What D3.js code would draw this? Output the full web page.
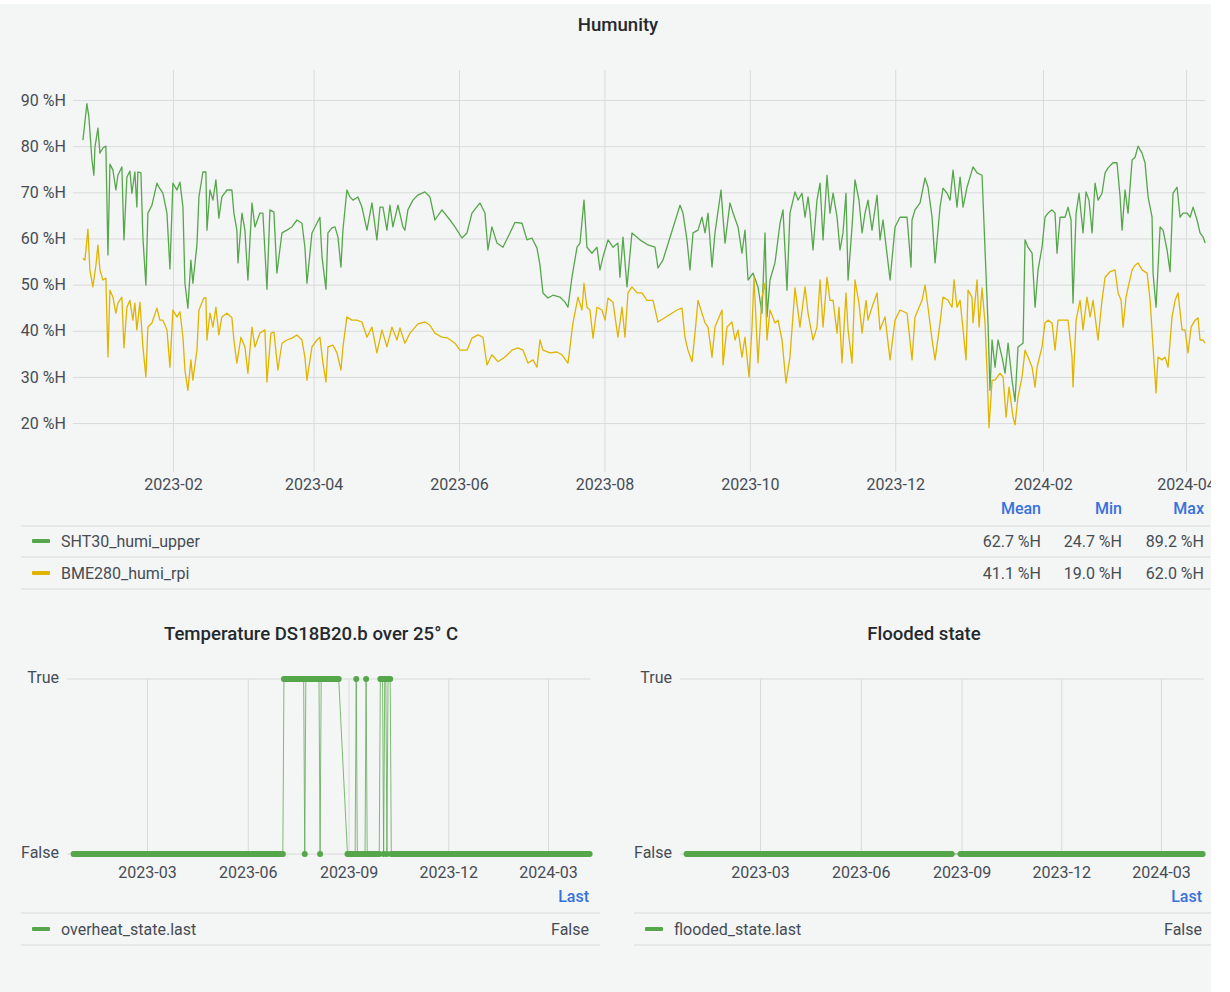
<!DOCTYPE html>
<html><head><meta charset="utf-8">
<script src="https://cdn.jsdelivr.net/npm/d3@7"></script>
<style>
body{margin:0;background:#fff;}
svg text{font-family:Roboto,"Noto Sans",sans-serif;}
</style></head><body>
<svg id="c" width="1230" height="992"></svg>
<script>
// ---------------- DATA ----------------
const timeRange = ["2022-12-21T00","2024-04-09T00"];
const humiTicks = ["2023-02","2023-04","2023-06","2023-08","2023-10","2023-12","2024-02","2024-04"];
const humiYTicks = [20,30,40,50,60,70,80,90];
const stateTicks = ["2023-03","2023-06","2023-09","2023-12","2024-03"];
const humiNames = ["SHT30_humi_upper","BME280_humi_rpi"];
const statNames = ["Mean","Min","Max"];
const shtStats = ["62.7 %H","24.7 %H","89.2 %H"];
const bmeStats = ["41.1 %H","19.0 %H","62.0 %H"];

const shtSeries = [
["2022-12-25T05",81.3],["2022-12-26T21",89.2],["2022-12-27T17",86.3],["2022-12-28T23",77.2],["2022-12-29T19",73.7],["2022-12-30T06",79.8],["2022-12-31T12",83.9],
["2023-01-01T08",78.5],["2023-01-02T14",79.6],["2023-01-03T20",80.0],["2023-01-04T17",56.4],["2023-01-05T13",76.1],["2023-01-06T19",74.8],["2023-01-08T01",70.5],["2023-01-08T21",73.7],["2023-01-10T13",75.5],["2023-01-11T10",59.7],["2023-01-12T16",73.3],["2023-01-13T22",74.6],["2023-01-14T18",69.8],["2023-01-16T00",74.4],["2023-01-16T20",66.8],["2023-01-17T06",74.4],["2023-01-18T13",74.2],["2023-01-19T09",60.1],["2023-01-20T15",49.9],["2023-01-21T11",65.5],["2023-01-23T04",67.2],["2023-01-25T06",72.0],["2023-01-26T02",71.1],["2023-01-27T18",69.8],["2023-01-29T11",65.5],["2023-01-30T17",53.4],["2023-01-31T23",72.0],
["2023-02-02T15",70.5],["2023-02-03T22",72.2],["2023-02-05T04",66.8],["2023-02-06T00",50.3],["2023-02-07T06",44.9],["2023-02-08T12",55.3],["2023-02-09T08",50.3],["2023-02-11T01",58.6],["2023-02-11T21",69.0],["2023-02-13T13",74.4],["2023-02-14T19",74.4],["2023-02-15T06",61.8],["2023-02-16T12",70.5],["2023-02-17T18",68.3],["2023-02-19T00",72.7],["2023-02-20T06",64.4],["2023-02-21T12",69.0],["2023-02-23T15",70.5],["2023-02-25T17",70.5],["2023-02-26T13",65.5],["2023-02-27T19",61.8],["2023-02-28T06",54.7],
["2023-03-01T22",65.5],["2023-03-03T04",61.8],["2023-03-04T10",51.0],["2023-03-06T03",67.7],["2023-03-07T09",62.5],["2023-03-09T11",65.5],["2023-03-10T17",65.5],["2023-03-12T10",49.0],["2023-03-13T16",66.2],["2023-03-15T08",65.7],["2023-03-16T14",52.5],["2023-03-18T17",61.2],["2023-03-20T19",61.8],["2023-03-22T21",62.5],["2023-03-25T00",64.0],["2023-03-27T02",63.3],["2023-03-28T08",58.1],["2023-03-29T05",50.3],["2023-03-31T07",61.2],
["2023-04-02T09",63.3],["2023-04-03T15",64.6],["2023-04-04T12",56.0],["2023-04-06T04",49.0],["2023-04-07T00",61.2],["2023-04-08T16",62.3],["2023-04-09T23",62.5],["2023-04-11T05",60.3],["2023-04-12T11",53.8],["2023-04-13T07",61.8],["2023-04-14T23",70.5],["2023-04-16T06",69.0],["2023-04-17T12",68.3],["2023-04-19T14",69.0],["2023-04-21T06",66.8],["2023-04-23T09",61.8],["2023-04-25T11",67.7],["2023-04-27T13",59.7],["2023-04-28T20",66.8],["2023-04-30T02",66.8],
["2023-05-01T18",61.8],["2023-05-03T00",67.2],["2023-05-04T06",62.5],["2023-05-06T09",67.2],["2023-05-08T11",62.5],["2023-05-09T07",61.8],["2023-05-10T13",66.2],["2023-05-12T16",68.3],["2023-05-14T18",69.4],["2023-05-17T17",70.1],["2023-05-19T19",69.0],["2023-05-21T21",64.0],["2023-05-24T20",66.2],["2023-05-28T05",64.0],["2023-05-30T07",62.5],
["2023-06-02T06",60.1],["2023-06-04T08",61.2],["2023-06-06T10",65.5],["2023-06-09T19",67.7],["2023-06-11T21",65.5],["2023-06-13T03",57.5],["2023-06-14T19",62.5],["2023-06-16T22",59.0],["2023-06-19T10",58.1],["2023-06-22T09",61.2],["2023-06-24T11",63.5],["2023-06-27T10",63.3],["2023-06-29T12",59.7],
["2023-07-01T14",60.1],["2023-07-03T17",57.9],["2023-07-04T23",54.2],["2023-07-06T05",48.2],["2023-07-08T07",47.1],["2023-07-10T10",47.7],["2023-07-13T08",47.3],["2023-07-15T11",46.2],["2023-07-16T17",45.1],["2023-07-18T09",51.6],["2023-07-20T12",58.1],["2023-07-21T18",59.0],["2023-07-23T10",68.3],["2023-07-24T16",58.1],["2023-07-26T18",56.8],["2023-07-28T21",58.1],["2023-07-30T03",53.2],["2023-07-31T09",56.0],
["2023-08-02T12",59.7],["2023-08-04T14",58.1],["2023-08-06T16",59.0],["2023-08-07T12",51.6],["2023-08-08T19",60.3],["2023-08-10T11",49.5],["2023-08-12T13",61.2],["2023-08-15T22",59.7],["2023-08-19T06",58.6],["2023-08-22T05",58.1],["2023-08-23T11",53.6],["2023-08-25T13",55.3],
["2023-09-01T17",67.2],["2023-09-02T23",65.5],["2023-09-04T15",59.7],["2023-09-05T21",53.2],["2023-09-07T04",61.2],["2023-09-09T06",61.8],["2023-09-10T22",64.6],["2023-09-12T05",61.2],["2023-09-13T11",65.5],["2023-09-15T03",53.8],["2023-09-16T09",61.2],["2023-09-18T22",70.5],["2023-09-19T18",64.6],["2023-09-20T14",59.0],["2023-09-22T16",67.7],["2023-09-23T23",65.5],["2023-09-26T01",62.5],["2023-09-27T17",56.8],["2023-09-28T23",61.8],["2023-09-30T06",51.0],
["2023-10-02T08",52.5],["2023-10-04T10",49.5],["2023-10-06T02",43.8],["2023-10-07T09",61.2],["2023-10-08T05",43.0],["2023-10-09T11",51.0],["2023-10-11T13",54.7],["2023-10-13T16",63.3],["2023-10-14T22",66.2],["2023-10-16T14",48.8],["2023-10-17T20",65.5],["2023-10-19T23",70.1],["2023-10-21T05",68.3],["2023-10-22T21",69.8],["2023-10-24T04",64.6],["2023-10-25T10",69.0],["2023-10-26T06",65.5],["2023-10-27T12",57.5],["2023-10-29T04",68.3],["2023-10-30T11",72.0],["2023-10-31T17",59.7],
["2023-11-02T09",73.7],["2023-11-03T15",65.5],["2023-11-04T22",69.8],["2023-11-06T14",64.6],["2023-11-07T20",57.5],["2023-11-09T02",61.2],["2023-11-10T08",69.8],["2023-11-11T05",51.0],["2023-11-12T21",62.5],["2023-11-14T03",72.7],["2023-11-15T19",68.3],["2023-11-17T02",61.2],["2023-11-18T08",65.5],["2023-11-19T14",68.3],["2023-11-21T06",61.8],["2023-11-23T09",69.4],["2023-11-24T15",59.7],["2023-11-25T21",64.0],["2023-11-28T20",51.0],["2023-11-30T22",62.5],
["2023-12-03T00",64.6],["2023-12-05T23",64.6],["2023-12-07T15",53.8],["2023-12-08T01",64.0],["2023-12-09T07",66.2],["2023-12-11T10",67.7],["2023-12-13T12",73.1],["2023-12-14T18",71.1],["2023-12-16T11",64.6],["2023-12-17T17",54.7],["2023-12-19T19",66.8],["2023-12-21T01",70.9],["2023-12-22T18",69.8],["2023-12-24T00",68.3],["2023-12-25T06",74.8],["2023-12-26T22",66.8],["2023-12-28T05",73.3],["2023-12-29T11",66.8],["2023-12-31T03",71.1],
["2024-01-01T09",73.3],["2024-01-02T15",75.5],["2024-01-04T08",74.2],["2024-01-06T10",73.7],["2024-01-08T22",41.7],["2024-01-09T18",27.1],["2024-01-10T15",38.0],["2024-01-11T21",32.1],["2024-01-13T03",38.0],["2024-01-14T19",34.3],["2024-01-16T02",30.8],["2024-01-17T08",37.3],["2024-01-19T00",29.3],["2024-01-20T06",24.7],["2024-01-21T12",36.5],["2024-01-23T15",37.3],["2024-01-24T11",59.7],["2024-01-25T17",58.1],["2024-01-27T10",56.8],["2024-01-28T16",45.1],["2024-01-29T22",53.2],["2024-01-31T14",58.1],
["2024-02-01T20",64.6],["2024-02-03T03",65.5],["2024-02-04T19",66.2],["2024-02-06T01",65.5],["2024-02-06T21",56.8],["2024-02-08T04",64.6],["2024-02-10T06",64.6],["2024-02-11T12",66.8],["2024-02-12T18",64.0],["2024-02-13T14",46.0],["2024-02-14T21",65.5],["2024-02-16T03",69.8],["2024-02-17T19",61.2],["2024-02-19T01",70.1],["2024-02-20T07",68.3],["2024-02-21T14",61.2],["2024-02-22T20",72.0],["2024-02-24T02",68.3],["2024-02-25T18",69.8],["2024-02-27T01",74.2],["2024-02-28T07",75.3],
["2024-03-01T09",76.4],["2024-03-03T01",76.4],["2024-03-04T08",69.0],["2024-03-05T04",61.8],["2024-03-06T10",70.5],["2024-03-07T16",65.5],["2024-03-09T09",77.0],["2024-03-10T15",77.6],["2024-03-11T21",80.0],["2024-03-13T13",78.5],["2024-03-14T19",76.4],["2024-03-16T02",69.0],["2024-03-17T18",64.6],["2024-03-18T04",52.5],["2024-03-19T10",45.1],["2024-03-21T03",62.5],["2024-03-22T09",61.8],["2024-03-24T01",57.5],["2024-03-25T07",52.8],["2024-03-26T13",69.8],["2024-03-28T06",71.1],["2024-03-29T12",64.6],["2024-03-30T18",65.5],
["2024-04-01T11",65.5],["2024-04-02T17",64.6],["2024-04-03T23",66.8],["2024-04-05T15",64.0],["2024-04-06T21",61.2],["2024-04-08T04",60.3],["2024-04-09T00",59.0]
];

const bmeSeries = [
["2022-12-25T05",55.7],["2022-12-26T01",55.3],["2022-12-26T21",59.7],["2022-12-27T07",62.0],["2022-12-28T03",53.2],["2022-12-29T09",49.5],["2022-12-30T16",54.2],["2022-12-31T12",58.6],
["2023-01-01T08",53.2],["2023-01-02T14",51.0],["2023-01-03T20",51.4],["2023-01-04T17",34.3],["2023-01-05T13",48.8],["2023-01-06T19",47.3],["2023-01-08T01",43.8],["2023-01-08T21",46.0],["2023-01-10T13",47.3],["2023-01-11T10",36.3],["2023-01-12T16",45.1],["2023-01-13T22",46.6],["2023-01-15T04",42.3],["2023-01-16T00",46.0],["2023-01-16T20",40.2],["2023-01-18T03",46.2],["2023-01-19T09",36.5],["2023-01-20T15",30.0],["2023-01-21T11",40.8],["2023-01-23T04",41.7],["2023-01-25T06",44.9],["2023-01-26T12",42.3],["2023-01-27T18",42.3],["2023-01-29T11",40.2],["2023-01-30T17",32.1],["2023-01-31T23",44.5],
["2023-02-02T15",43.0],["2023-02-03T22",44.1],["2023-02-05T04",38.6],["2023-02-06T00",31.5],["2023-02-07T06",27.1],["2023-02-08T12",33.7],["2023-02-09T08",29.3],["2023-02-11T01",35.8],["2023-02-11T21",44.5],["2023-02-13T23",47.1],["2023-02-14T19",47.1],["2023-02-15T06",38.0],["2023-02-16T12",43.8],["2023-02-17T18",40.8],["2023-02-19T00",45.1],["2023-02-20T06",39.1],["2023-02-21T12",43.0],["2023-02-23T15",43.8],["2023-02-25T17",42.8],["2023-02-26T13",38.0],["2023-02-27T19",33.0],
["2023-03-01T12",38.6],["2023-03-03T04",36.5],["2023-03-04T10",30.8],["2023-03-06T03",40.8],["2023-03-07T09",36.5],["2023-03-09T11",39.5],["2023-03-11T13",40.2],["2023-03-12T10",28.9],["2023-03-14T02",39.5],["2023-03-15T08",39.7],["2023-03-17T00",31.5],["2023-03-18T17",37.3],["2023-03-20T19",38.0],["2023-03-22T21",38.4],["2023-03-25T00",39.1],["2023-03-27T02",38.0],["2023-03-28T08",34.3],["2023-03-29T05",29.3],["2023-03-31T07",36.5],
["2023-04-02T09",38.0],["2023-04-03T15",38.6],["2023-04-04T22",33.0],["2023-04-06T04",28.9],["2023-04-07T00",36.5],["2023-04-09T02",36.9],["2023-04-10T19",35.2],["2023-04-12T11",31.5],["2023-04-13T07",36.5],["2023-04-14T23",43.0],["2023-04-17T02",42.3],["2023-04-19T04",42.3],["2023-04-21T06",41.9],["2023-04-23T09",38.6],["2023-04-25T11",40.8],["2023-04-27T13",35.2],["2023-04-29T16",40.2],
["2023-05-01T18",36.5],["2023-05-03T20",40.8],["2023-05-05T23",38.0],["2023-05-07T05",40.6],["2023-05-09T07",37.3],["2023-05-11T10",39.5],["2023-05-14T18",41.5],["2023-05-17T17",41.9],["2023-05-19T19",41.2],["2023-05-21T21",39.5],["2023-05-24T20",38.6],["2023-05-27T08",38.4],["2023-05-30T07",37.3],
["2023-06-01T09",35.8],["2023-06-04T08",35.8],["2023-06-06T10",38.4],["2023-06-08T23",39.1],["2023-06-11T01",38.6],["2023-06-12T17",32.6],["2023-06-14T19",34.8],["2023-06-17T08",33.3],["2023-06-20T06",34.3],["2023-06-23T05",35.8],["2023-06-25T17",36.3],["2023-06-27T20",35.8],["2023-06-29T22",33.0],
["2023-07-02T00",33.7],["2023-07-03T17",32.1],["2023-07-04T23",38.0],["2023-07-06T05",35.8],["2023-07-09T04",35.2],["2023-07-12T02",35.4],["2023-07-14T04",34.8],["2023-07-16T17",33.0],["2023-07-18T19",41.7],["2023-07-20T22",47.3],["2023-07-22T14",44.5],["2023-07-23T10",50.3],["2023-07-24T16",45.1],["2023-07-25T22",44.5],["2023-07-27T05",38.4],["2023-07-28T21",45.1],["2023-07-30T23",44.5],
["2023-08-01T06",42.3],["2023-08-02T12",47.1],["2023-08-04T14",46.2],["2023-08-06T16",38.6],["2023-08-08T09",45.1],["2023-08-09T15",38.6],["2023-08-10T21",48.2],["2023-08-12T13",49.5],["2023-08-14T16",48.2],["2023-08-16T18",48.2],["2023-08-18T20",46.6],["2023-08-21T09",46.6],["2023-08-23T11",41.9],["2023-08-31T11",44.5],
["2023-09-02T13",44.9],["2023-09-03T19",38.6],["2023-09-05T01",35.8],["2023-09-06T18",33.3],["2023-09-08T00",39.5],["2023-09-09T06",46.6],["2023-09-10T22",43.8],["2023-09-12T05",41.7],["2023-09-13T11",40.8],["2023-09-15T03",34.3],["2023-09-16T09",40.8],["2023-09-19T08",44.5],["2023-09-19T18",32.6],["2023-09-21T10",40.8],["2023-09-23T12",41.9],["2023-09-24T19",38.0],["2023-09-26T01",40.2],["2023-09-27T17",34.3],["2023-09-28T23",38.6],["2023-09-30T16",30.0],
["2023-10-01T22",40.8],["2023-10-02T18",51.6],["2023-10-04T10",33.0],["2023-10-06T02",47.3],["2023-10-07T09",50.3],["2023-10-08T05",38.0],["2023-10-09T11",44.5],["2023-10-11T13",41.7],["2023-10-12T20",42.3],["2023-10-14T12",38.0],["2023-10-16T04",28.7],["2023-10-17T20",34.3],["2023-10-19T23",49.3],["2023-10-22T01",40.8],["2023-10-24T04",49.5],["2023-10-25T10",43.8],["2023-10-27T12",38.0],["2023-10-29T04",40.8],["2023-10-30T11",51.0],["2023-10-31T17",40.8],
["2023-11-02T09",51.6],["2023-11-03T15",46.6],["2023-11-04T22",46.6],["2023-11-06T14",39.5],["2023-11-07T10",45.1],["2023-11-08T16",33.0],["2023-11-10T08",48.2],["2023-11-11T05",40.2],["2023-11-12T21",33.0],["2023-11-14T03",51.0],["2023-11-15T19",46.0],["2023-11-17T02",39.5],["2023-11-18T18",46.6],["2023-11-19T14",42.3],["2023-11-21T06",45.1],["2023-11-23T09",48.2],["2023-11-24T15",40.2],["2023-11-26T17",43.0],["2023-11-28T20",33.7],["2023-11-30T22",42.3],
["2023-12-03T00",44.5],["2023-12-05T23",43.8],["2023-12-08T01",33.7],["2023-12-09T07",43.0],["2023-12-12T06",46.6],["2023-12-13T12",49.9],["2023-12-14T18",45.1],["2023-12-16T11",38.0],["2023-12-17T17",33.7],["2023-12-19T19",41.7],["2023-12-21T01",47.3],["2023-12-23T04",46.6],["2023-12-24T20",45.1],["2023-12-25T16",51.0],["2023-12-26T22",45.1],["2023-12-28T05",46.6],["2023-12-29T11",40.2],["2023-12-30T17",33.7],["2023-12-31T13",48.8],
["2024-01-02T05",47.3],["2024-01-02T15",41.7],["2024-01-04T08",51.0],["2024-01-05T04",40.8],["2024-01-06T10",49.3],["2024-01-07T16",41.7],["2024-01-08T12",31.5],["2024-01-09T08",19.0],["2024-01-10T15",29.3],["2024-01-11T21",29.3],["2024-01-13T23",30.8],["2024-01-15T06",30.0],["2024-01-16T12",21.3],["2024-01-17T18",27.8],["2024-01-19T10",21.3],["2024-01-20T06",19.6],["2024-01-21T12",25.6],["2024-01-23T05",30.0],["2024-01-24T11",35.8],["2024-01-25T17",34.3],["2024-01-27T10",32.1],["2024-01-28T16",27.8],["2024-01-29T12",32.1],["2024-01-31T14",36.5],
["2024-02-01T20",41.7],["2024-02-03T03",42.3],["2024-02-04T19",41.7],["2024-02-06T01",35.8],["2024-02-07T07",42.3],["2024-02-09T10",42.3],["2024-02-11T12",42.3],["2024-02-13T04",34.3],["2024-02-13T14",27.8],["2024-02-14T21",42.3],["2024-02-16T13",46.6],["2024-02-17T19",40.2],["2024-02-19T11",47.3],["2024-02-20T18",43.0],["2024-02-22T00",46.6],["2024-02-24T02",38.0],["2024-02-25T18",46.6],["2024-02-27T01",51.6],["2024-02-29T03",52.8],
["2024-03-02T05",53.2],["2024-03-03T12",48.2],["2024-03-04T18",46.6],["2024-03-05T14",40.8],["2024-03-06T20",47.3],["2024-03-07T16",49.3],["2024-03-09T09",53.2],["2024-03-10T15",54.2],["2024-03-11T21",54.7],["2024-03-13T13",53.2],["2024-03-15T16",52.5],["2024-03-16T22",46.6],["2024-03-18T04",36.5],["2024-03-19T10",26.5],["2024-03-20T06",34.3],["2024-03-21T23",33.7],["2024-03-23T05",34.3],["2024-03-24T11",32.1],["2024-03-26T03",43.0],["2024-03-27T10",46.6],["2024-03-28T16",48.2],["2024-03-30T08",40.2],["2024-03-31T14",40.2],
["2024-04-01T20",35.2],["2024-04-03T03",40.8],["2024-04-04T19",42.3],["2024-04-06T01",42.8],["2024-04-06T21",38.0],["2024-04-08T04",38.0],["2024-04-09T00",37.3]
];

// boolean state series, run-length encoded (inclusive day ranges)
const overheatRunStart = ["2022-12-24","2023-07-04","2023-07-23","2023-07-24","2023-08-06","2023-08-07","2023-08-31","2023-09-08","2023-09-09","2023-09-17","2023-09-18","2023-09-30","2023-10-03","2023-10-04","2023-10-06","2023-10-07","2023-10-10"];
const overheatRunEnd   = ["2023-07-03","2023-07-22","2023-07-23","2023-08-05","2023-08-06","2023-08-23","2023-09-07","2023-09-08","2023-09-16","2023-09-17","2023-09-29","2023-10-02","2023-10-03","2023-10-05","2023-10-06","2023-10-09","2024-04-08"];
const overheatRunState = [false,true,false,true,false,true,false,true,false,true,false,true,false,true,false,true,false];
const floodRunStart = ["2022-12-24","2023-08-31"];
const floodRunEnd   = ["2023-08-23","2024-04-08"];
const floodRunState = [false,false];
const overheatName = "overheat_state.last", overheatLast = "False";
const floodName = "flooded_state.last", floodLast = "False";

// ---------------- DRAW ----------------
(function(){
const GREEN = "#56a64b", YELLOW = "#e0b400", GRID = "#d9dadb", TXT = "#464c54", TITLE = "#24292e", BLUE = "#3871dc", SEP = "#e2e3e4";
const pH = d3.timeParse("%Y-%m-%dT%H"), pD = d3.timeParse("%Y-%m-%d"), pM = d3.timeParse("%Y-%m");
const fmtM = d3.timeFormat("%Y-%m");
const svg = d3.select("#c");
svg.append("rect").attr("x",0).attr("y",4).attr("width",1211).attr("height",988).attr("fill","#f4f5f5");

const dom = timeRange.map(pH);

// ===== Top chart =====
const x = d3.scaleTime().domain(dom).range([72.9,1205.1]);
const y = d3.scaleLinear().domain([9.4,96.5]).range([472,70]);
const tg = svg.append("g");
tg.append("text").attr("x",618).attr("y",25).attr("text-anchor","middle").attr("dominant-baseline","central")
  .attr("font-size",18.6).attr("font-weight",500).attr("fill",TITLE).text("Humunity");
tg.append("g").attr("transform","translate(0,472)")
  .call(d3.axisBottom(x).tickValues(humiTicks.map(pM)).tickSize(-402).tickFormat(fmtM))
  .call(g=>{g.select(".domain").remove();g.selectAll("line").attr("stroke",GRID);
    g.selectAll("text").attr("font-size",16).attr("fill",TXT).attr("y",12).attr("dy","0").attr("dominant-baseline","central");});
tg.append("g").attr("transform","translate(72.9,0)")
  .call(d3.axisLeft(y).tickValues(humiYTicks).tickSize(-1132.2).tickFormat(d=>d+" %H").tickPadding(7))
  .call(g=>{g.select(".domain").remove();g.selectAll("line").attr("stroke",GRID);
    g.selectAll("text").attr("font-size",16).attr("fill",TXT);});
const line = d3.line().x(d=>x(pH(d[0]))).y(d=>y(d[1]));
tg.append("path").datum(shtSeries).attr("d",line).attr("fill","none").attr("stroke",GREEN).attr("stroke-width",1.3).attr("stroke-linejoin","round");
tg.append("path").datum(bmeSeries).attr("d",line).attr("fill","none").attr("stroke",YELLOW).attr("stroke-width",1.3).attr("stroke-linejoin","round");

const statX = [1041,1122,1204];
statNames.forEach((s,i)=>tg.append("text").attr("x",statX[i]).attr("y",508).attr("text-anchor","end").attr("dominant-baseline","central")
  .attr("font-size",16).attr("font-weight",500).attr("fill",BLUE).text(s));
[526,557,589].forEach(yy=>tg.append("line").attr("x1",21).attr("x2",1210).attr("y1",yy).attr("y2",yy).attr("stroke",SEP).attr("stroke-width",1.5));
[[humiNames[0],GREEN,shtStats,541],[humiNames[1],YELLOW,bmeStats,573]].forEach(([n,c,st,cy])=>{
  tg.append("rect").attr("x",32).attr("y",cy-2).attr("width",18).attr("height",4).attr("rx",1).attr("fill",c);
  tg.append("text").attr("x",61).attr("y",cy).attr("dominant-baseline","central").attr("font-size",16).attr("fill",TXT).text(n);
  st.forEach((v,i)=>tg.append("text").attr("x",statX[i]).attr("y",cy).attr("text-anchor","end").attr("dominant-baseline","central").attr("font-size",16).attr("fill",TXT).text(v));
});

// ===== State charts =====
function expand(starts,ends,states){
  const pts=[];
  starts.forEach((s,i)=>{
    const a=pD(s), b=d3.timeDay.offset(pD(ends[i]),1);
    d3.timeDay.range(a,b).forEach(dt=>pts.push([dt,states[i]?1:0]));
  });
  return pts;
}
function stateChart(o){
  const g = svg.append("g");
  const sx = d3.scaleTime().domain(dom).range(o.range);
  const sy = d3.scaleLinear().domain([0,1]).range([854,679]);
  g.append("text").attr("x",o.titleX).attr("y",634).attr("text-anchor","middle").attr("dominant-baseline","central")
    .attr("font-size",18.6).attr("font-weight",500).attr("fill",TITLE).text(o.title);
  [[1,"True"],[0,"False"]].forEach(([v,l])=>{
    g.append("line").attr("x1",o.gridL).attr("x2",o.range[1]).attr("y1",sy(v)).attr("y2",sy(v)).attr("stroke",GRID);
    g.append("text").attr("x",o.labX).attr("y",sy(v)-2).attr("text-anchor","end").attr("dominant-baseline","central")
      .attr("font-size",16).attr("fill",TXT).text(l);
  });
  g.append("g").attr("transform","translate(0,857)")
    .call(d3.axisBottom(sx).tickValues(stateTicks.map(pM)).tickSize(-178).tickFormat(fmtM))
    .call(a=>{a.select(".domain").remove();a.selectAll("line").attr("stroke",GRID);
      a.selectAll("text").attr("font-size",16).attr("fill",TXT).attr("y",15).attr("dy","0").attr("dominant-baseline","central");});
  const pts = expand(o.starts,o.ends,o.states);
  g.append("path").datum(pts).attr("d",d3.line().x(d=>sx(d[0])).y(d=>sy(d[1])))
    .attr("fill","none").attr("stroke",GREEN).attr("stroke-width",1).attr("stroke-opacity",0.75);
  g.selectAll("circle.p").data(pts).join("circle").attr("cx",d=>sx(d[0])).attr("cy",d=>sy(d[1])).attr("r",3).attr("fill",GREEN);
  g.append("text").attr("x",o.valX).attr("y",896).attr("text-anchor","end").attr("dominant-baseline","central")
    .attr("font-size",16).attr("font-weight",500).attr("fill",BLUE).text("Last");
  [913,945].forEach(yy=>g.append("line").attr("x1",o.sepL).attr("x2",o.sepR).attr("y1",yy).attr("y2",yy).attr("stroke",SEP).attr("stroke-width",1.5));
  g.append("rect").attr("x",o.swX).attr("y",927).attr("width",18).attr("height",4).attr("rx",1).attr("fill",GREEN);
  g.append("text").attr("x",o.swX+29).attr("y",929).attr("dominant-baseline","central").attr("font-size",16).attr("fill",TXT).text(o.name);
  g.append("text").attr("x",o.valX).attr("y",929).attr("text-anchor","end").attr("dominant-baseline","central").attr("font-size",16).attr("fill",TXT).text(o.last);
}
stateChart({title:"Temperature DS18B20.b over 25° C",titleX:311,range:[70.3,590.7],gridL:67,labX:59,valX:589,sepL:21,sepR:600,swX:32,
  starts:overheatRunStart,ends:overheatRunEnd,states:overheatRunState,name:overheatName,last:overheatLast});
stateChart({title:"Flooded state",titleX:924,range:[683.3,1203.7],gridL:680,labX:672,valX:1202,sepL:634,sepR:1211,swX:645,
  starts:floodRunStart,ends:floodRunEnd,states:floodRunState,name:floodName,last:floodLast});

svg.append("rect").attr("x",1211).attr("y",0).attr("width",19).attr("height",992).attr("fill","#fff");
})();
</script>
</body></html>
